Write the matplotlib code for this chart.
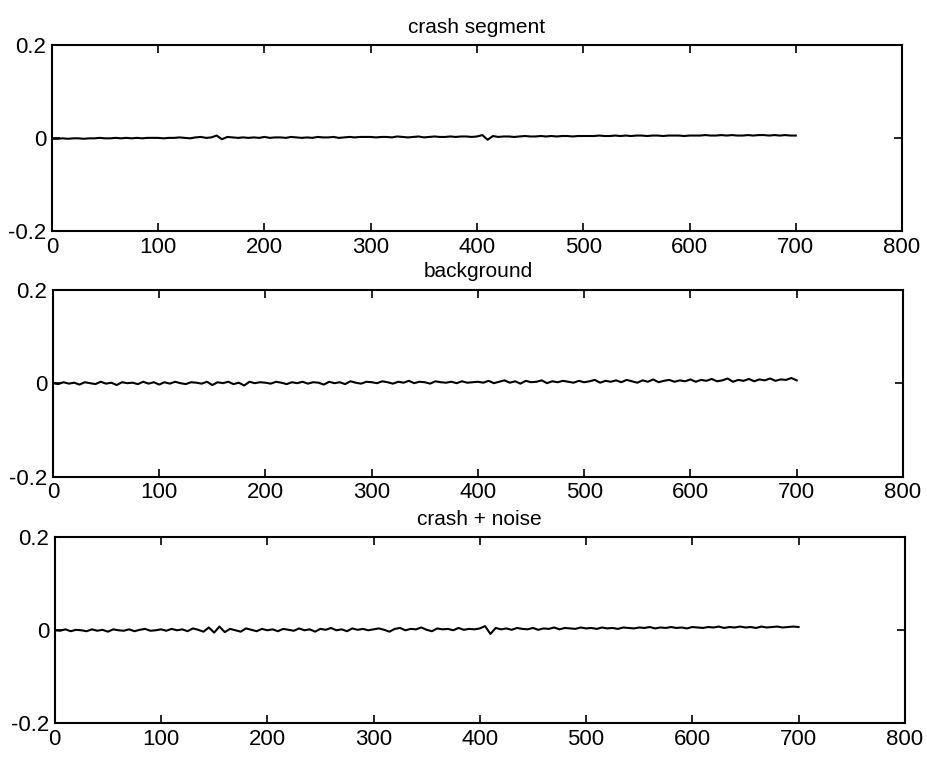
import numpy as np
import matplotlib.pyplot as plt

plt.rcParams['font.family'] = ['Liberation Sans', 'DejaVu Sans']

# sample index (every 5th sample), values in units of 1e-3
x = np.arange(0, 701, 5)

crash = [-1, -1, 0, -1, 0, 0, -1, 0, 0, 1, 0, 0, 1, 0, 1, 0, 1, 0, 1, 1, 1,
         0, 1, 1, 2, 1, 0, 2, 3, 1, 2, 6, -2, 3, 2, 1, 2, 1, 2, 1, 3,
         1, 2, 2, 1, 3, 2, 1, 2, 1, 3, 2, 2, 3, 1, 2, 3, 2, 3, 3, 3,
         2, 3, 3, 2, 4, 3, 2, 3, 4, 2, 3, 4, 3, 3, 4, 3, 4, 4, 3, 4,
         7, -3, 5, 3, 4, 4, 3, 4, 5, 4, 4, 5, 4, 5, 4, 5, 5, 4, 5, 5,
         5, 5, 6, 5, 5, 6, 5, 6, 5, 6, 6, 5, 6, 6, 5, 6, 6, 6, 5, 6,
         6, 6, 7, 6, 6, 7, 6, 7, 6, 6, 7, 6, 7, 7, 6, 7, 6, 7, 6, 6]

background = [0, -2, 2, -1, 1, -3, 2, 0, -2, 3, -1, 1, -4, 2, 0, 1, -2, 3, -1, 2, -3,
              2, -1, 3, 0, -2, 2, 1, -1, 3, -4, 2, 0, 3, -2, 1, -5, 3, 0, 2, 1,
              -1, 3, 1, -2, 2, 0, 3, -1, 2, 1, -3, 3, 0, 2, -2, 4, 1, -1, 3, 2,
              0, 4, 2, -1, 3, 1, 5, 0, 3, 2, -1, 4, 2, 1, 3, 0, 4, 1, 2, 3,
              1, 5, 0, 3, 6, 1, 4, -1, 5, 2, 3, 6, 0, 4, 2, 5, 3, 1, 5, 2,
              4, 7, 1, 5, 3, 6, 2, 7, 4, 1, 6, 3, 8, 2, 5, 7, 3, 6, 4, 8,
              3, 7, 5, 9, 4, 6, 10, 3, 7, 5, 9, 4, 8, 6, 10, 5, 8, 7, 11, 6]

crash_noise = [0, -1, 2, -2, 1, 0, -2, 2, -1, 1, -3, 2, 0, -1, 2, -2, 1, 3, -1, 0, 2,
               -1, 3, 0, 2, -2, 4, 1, -3, 6, -5, 8, -4, 3, 0, -3, 4, 1, -2, 3, 0,
               2, -2, 3, 1, -1, 4, 0, 2, -3, 3, 1, 5, 0, 2, -2, 4, 1, 3, 0, 2,
               4, 1, -3, 3, 5, 0, 3, 2, 6, 1, -2, 4, 2, 3, 0, 5, 1, 3, 2, 4,
               9, -8, 5, 2, 4, 1, 5, 3, 2, 5, 1, 4, 3, 6, 2, 5, 4, 3, 6, 4,
               5, 3, 6, 4, 5, 3, 6, 5, 4, 6, 5, 7, 4, 6, 5, 7, 5, 6, 4, 7,
               6, 5, 7, 6, 8, 5, 7, 6, 8, 6, 7, 5, 8, 6, 7, 8, 6, 7, 8, 7]

titles = ['crash segment', 'background', 'crash + noise']
series = [crash, background, crash_noise]

fig = plt.figure(figsize=(9.28, 7.58), dpi=100)
positions = [[0.056, 0.695, 0.916, 0.245],
             [0.057, 0.371, 0.916, 0.247],
             [0.059, 0.046, 0.916, 0.245]]

for pos, title, y in zip(positions, titles, series):
    ax = fig.add_axes(pos)
    ax.plot(x, np.array(y) * 1e-3, color='black', linewidth=1.5)
    ax.set_xlim(0, 800)
    ax.set_ylim(-0.2, 0.2)
    ax.set_xticks(range(0, 801, 100))
    ax.set_yticks([-0.2, 0, 0.2])
    ax.set_yticklabels(['-0.2', '0', '0.2'])
    ax.tick_params(direction='in', top=True, right=True, length=6, width=1.2,
                   labelsize=16, pad=4)
    for s in ax.spines.values():
        s.set_linewidth(1.5)
    ax.set_title(title, fontsize=15, pad=9)

fig.savefig('out.png', dpi=100)
